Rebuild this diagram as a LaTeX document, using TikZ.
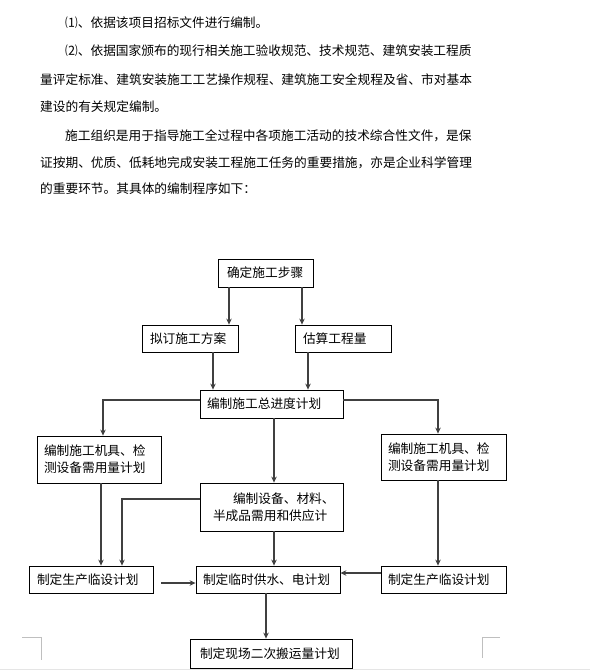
\documentclass[tikz,border=0pt]{standalone}
\usepackage{fontspec}
\setmainfont{Noto Sans CJK SC}
\usetikzlibrary{arrows.meta}
\newcommand\cjkfs{\fontsize{12.7}{17}\selectfont}
\begin{document}
\begin{tikzpicture}[x=1pt,y=-1pt,
  every node/.append style={font=\cjkfs},
  para/.style={anchor=base west, inner sep=0pt},
  box/.style={draw=black, line width=0.8pt, align=left, inner ysep=0pt},
  arr/.style={draw=black!75, line width=1.1pt, -{Stealth[length=6pt,width=5.5pt]}},
  cornermark/.style={draw=black!25, line width=0.8pt}]
\useasboundingbox (0,0) rectangle (590,670);

% paragraph text
\node[para] (p1) at (65,27) {⑴、依据该项目招标文件进行编制。};
\node[para] (p2) at (65,55) {⑵、依据国家颁布的现行相关施工验收规范、技术规范、建筑安装工程质};
\node[para] (p3) at (40,84) {量评定标准、建筑安装施工工艺操作规程、建筑施工安全规程及省、市对基本};
\node[para] (p4) at (40,111) {建设的有关规定编制。};
\node[para] (p5) at (65,140) {施工组织是用于指导施工全过程中各项施工活动的技术综合性文件，是保};
\node[para] (p6) at (40,167) {证按期、优质、低耗地完成安装工程施工任务的重要措施，亦是企业科学管理};
\node[para] (p7) at (40,193) {的重要环节。其具体的编制程序如下：};

% boxes
\node[box, inner xsep=9pt, text width=77pt, minimum height=28pt] (top) at (265.5,273) {确定施工步骤};
\node[box, inner xsep=8pt, text width=80pt, minimum height=27pt] (plan) at (190,338.5) {拟订施工方案};
\node[box, inner xsep=8pt, text width=80pt, minimum height=27pt] (est) at (343,338.5) {估算工程量};
\node[box, inner xsep=7pt, text width=129pt, minimum height=28pt] (main) at (271.5,404) {编制施工总进度计划};
\node[box, inner xsep=7pt, text width=110pt, minimum height=47pt] (lb) at (99,459.5) {编制施工机具、检\\测设备需用量计划};
\node[box, inner xsep=7pt, text width=111pt, minimum height=46pt] (rb) at (443.5,457) {编制施工机具、检\\测设备需用量计划};
\node[box, inner xsep=13pt, text width=117pt, minimum height=48pt] (mid) at (271.5,507) {\hspace*{20pt}编制设备、材料、\\半成品需用和供应计};
\node[box, inner xsep=8pt, text width=108pt, minimum height=27pt] (lrow) at (91,579.5) {制定生产临设计划};
\node[box, inner xsep=7pt, text width=130pt, minimum height=27pt] (crow) at (268,579.5) {制定临时供水、电计划};
\node[box, inner xsep=7pt, text width=111pt, minimum height=27pt] (rrow) at (443.5,579.5) {制定生产临设计划};
\node[box, inner xsep=10pt, text width=142pt, minimum height=29pt] (bot) at (271,653.5) {制定现场二次搬运量计划};

% connectors
\draw[arr] (229,0 |- top.south) -- (229,0 |- plan.north);
\draw[arr] (302,0 |- top.south) -- (302,0 |- est.north);
\draw[arr] (213,0 |- plan.south) -- (213,0 |- main.north);
\draw[arr] (308,0 |- est.south) -- (308,0 |- main.north);
\draw[arr] (main.west |- 0,400) -| (103,0 |- lb.north);
\draw[arr] (main.east |- 0,400) -| (438,0 |- rb.north);
\draw[arr] (274,0 |- main.south) -- (274,0 |- mid.north);
\draw[arr] (mid.west |- 0,499) -| (122,0 |- lrow.north);
\draw[arr] (101,0 |- lb.south) -- (101,0 |- lrow.north);
\draw[arr] (274,0 |- mid.south) -- (274,0 |- crow.north);
\draw[arr] (438,0 |- rb.south) -- (438,0 |- rrow.north);
\coordinate (ls) at (161,583);
\draw[arr] (ls) -- (crow.west |- ls);
\draw[arr] (rrow.west |- 0,573) -- (crow.east |- 0,573);
\draw[arr] (266,0 |- crow.south) -- (266,0 |- bot.north);

% page corner marks
\draw[cornermark] (22,637) -- (41,637) -- (41,660);
\draw[cornermark] (500,637) -- (482,637) -- (482,658);
\draw[draw=black!10, line width=1pt] (0,669.5) -- (590,669.5);
\end{tikzpicture}
\end{document}
